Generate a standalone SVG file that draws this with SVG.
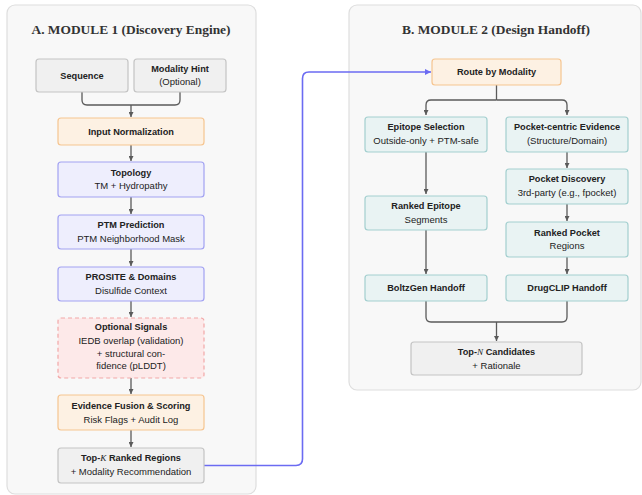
<svg xmlns="http://www.w3.org/2000/svg" width="642" height="495" viewBox="0 0 642 495">
<style>
.panel{fill:#f8f8f8;stroke:#dedede;stroke-width:1.2}
.ttl{font-family:"Liberation Serif",serif;font-weight:bold;font-size:13.4px;fill:#333;text-anchor:middle}
text{font-family:"Liberation Sans",Arial,sans-serif;fill:#222;text-anchor:middle}
.b{font-weight:bold;font-size:9.2px}
.r{font-size:9.5px}
.gray rect{fill:#f0f0f0;stroke:#c4c4c4;stroke-width:1.2}
.orange rect{fill:#fdf1e3;stroke:#f6c590;stroke-width:1.2}
.purple rect{fill:#eeeefd;stroke:#a2a2f2;stroke-width:1.2}
.red rect{fill:#fde9e9;stroke:#f2a8a8;stroke-width:1.2;stroke-dasharray:4 3}
.teal rect{fill:#e9f3f3;stroke:#a3cfcf;stroke-width:1.2}
.c path{fill:none;stroke:#5a5a5a;stroke-width:1.3}
.c path.arr{marker-end:url(#ah)}
.c path.blue{fill:none;stroke:#6b6bf2;stroke-width:1.6;marker-end:url(#bh)}
.m{font-family:"Liberation Serif",serif;font-style:italic;font-weight:normal}
</style>
<defs>
<marker id="ah" viewBox="0 0 10 10" refX="10" refY="5" markerWidth="5" markerHeight="5" orient="auto" markerUnits="userSpaceOnUse"><path d="M0,0 L10,5 L0,10 z" fill="#5a5a5a"/></marker>
<marker id="bh" viewBox="0 0 10 10" refX="10" refY="5" markerWidth="6" markerHeight="6" orient="auto" markerUnits="userSpaceOnUse"><path d="M0,0 L10,5 L0,10 z" fill="#6b6bf2"/></marker>
</defs>

<g id="panelA">
<rect class="panel" x="7" y="5" width="249" height="489" rx="8"/>
<text class="ttl" x="131" y="34">A. MODULE 1 (Discovery Engine)</text>
</g>
<g id="panelB">
<rect class="panel" x="349" y="5" width="292" height="385" rx="8"/>
<text class="ttl" x="496" y="34">B. MODULE 2 (Design Handoff)</text>
</g>

<g id="connectors" class="c">
<path d="M82,92 V100 Q82,105 87,105 H175 Q180,105 180,100 V92"/>
<path class="arr" d="M131,105 V117"/>
<path class="arr" d="M131,145 V161"/>
<path class="arr" d="M131,197 V214"/>
<path class="arr" d="M131,249 V266"/>
<path class="arr" d="M131,301 V317"/>
<path class="arr" d="M131,378 V394"/>
<path class="arr" d="M131,430 V447"/>
<path d="M496.5,85 V100"/>
<path class="arr" d="M496.5,100 H431 Q426,100 426,105 V115"/>
<path class="arr" d="M496.5,100 H562 Q567,100 567,105 V115"/>
<path class="arr" d="M567,152 V168"/>
<path class="arr" d="M426,152 V194"/>
<path class="arr" d="M567,204 V221"/>
<path class="arr" d="M426,230 V274"/>
<path class="arr" d="M567,257 V274"/>
<path d="M426,301 V317 Q426,322 431,322 H562 Q567,322 567,317 V301"/>
<path class="arr" d="M496.5,322 V341"/>
<path class="blue" d="M204,465.5 H296 Q302.5,465.5 302.5,459 V78.5 Q302.5,72 309,72 H431"/>
</g>

<g id="sequence" class="gray"><rect x="36" y="59" width="92" height="33" rx="3"/><text class="b" x="82" y="79">Sequence</text></g>
<g id="modality-hint" class="gray"><rect x="134" y="59" width="92" height="33" rx="3"/><text class="b" x="180" y="72">Modality Hint</text><text class="r" x="180" y="85">(Optional)</text></g>
<g id="input-normalization" class="orange"><rect x="58" y="118" width="146" height="27" rx="3"/><text class="b" x="131" y="135">Input Normalization</text></g>
<g id="topology" class="purple"><rect x="58" y="162" width="146" height="35" rx="3"/><text class="b" x="131" y="176">Topology</text><text class="r" x="131" y="189">TM + Hydropathy</text></g>
<g id="ptm-prediction" class="purple"><rect x="58" y="215" width="146" height="34" rx="3"/><text class="b" x="131" y="228">PTM Prediction</text><text class="r" x="131" y="242">PTM Neighborhood Mask</text></g>
<g id="prosite" class="purple"><rect x="58" y="267" width="146" height="34" rx="3"/><text class="b" x="131" y="280">PROSITE &amp; Domains</text><text class="r" x="131" y="294">Disulfide Context</text></g>
<g id="optional-signals" class="red"><rect x="58" y="318" width="146" height="60" rx="3"/><text class="b" x="131" y="330">Optional Signals</text><text class="r" x="131" y="344">IEDB overlap (validation)</text><text class="r" x="131" y="357">+ structural con-</text><text class="r" x="131" y="369">fidence (pLDDT)</text></g>
<g id="evidence-fusion" class="orange"><rect x="58" y="395" width="146" height="35" rx="3"/><text class="b" x="131" y="409">Evidence Fusion &amp; Scoring</text><text class="r" x="131" y="423">Risk Flags + Audit Log</text></g>
<g id="top-k" class="gray"><rect x="58" y="448" width="146" height="35" rx="3"/><text class="b" x="131" y="461">Top-<tspan class="m">K</tspan> Ranked Regions</text><text class="r" x="131" y="475">+ Modality Recommendation</text></g>

<g id="route-by-modality" class="orange"><rect x="432" y="59" width="129" height="26" rx="3"/><text class="b" x="496.5" y="75">Route by Modality</text></g>
<g id="epitope-selection" class="teal"><rect x="365" y="117" width="122" height="35" rx="3"/><text class="b" x="426" y="130">Epitope Selection</text><text class="r" x="426" y="144">Outside-only + PTM-safe</text></g>
<g id="pocket-centric" class="teal"><rect x="506" y="117" width="122" height="35" rx="3"/><text class="b" x="567" y="130">Pocket-centric Evidence</text><text class="r" x="567" y="144">(Structure/Domain)</text></g>
<g id="pocket-discovery" class="teal"><rect x="506" y="169" width="122" height="35" rx="3"/><text class="b" x="567" y="182">Pocket Discovery</text><text class="r" x="567" y="196">3rd-party (e.g., fpocket)</text></g>
<g id="ranked-epitope" class="teal"><rect x="365" y="196" width="122" height="34" rx="3"/><text class="b" x="426" y="209">Ranked Epitope</text><text class="r" x="426" y="223">Segments</text></g>
<g id="ranked-pocket" class="teal"><rect x="506" y="222" width="122" height="35" rx="3"/><text class="b" x="567" y="236">Ranked Pocket</text><text class="r" x="567" y="249">Regions</text></g>
<g id="boltzgen" class="teal"><rect x="365" y="275" width="122" height="26" rx="3"/><text class="b" x="426" y="291">BoltzGen Handoff</text></g>
<g id="drugclip" class="teal"><rect x="506" y="275" width="122" height="26" rx="3"/><text class="b" x="567" y="291">DrugCLIP Handoff</text></g>
<g id="top-n" class="gray"><rect x="411" y="342" width="171" height="33" rx="3"/><text class="b" x="496.5" y="355">Top-<tspan class="m">N</tspan> Candidates</text><text class="r" x="496.5" y="369">+ Rationale</text></g>
</svg>
